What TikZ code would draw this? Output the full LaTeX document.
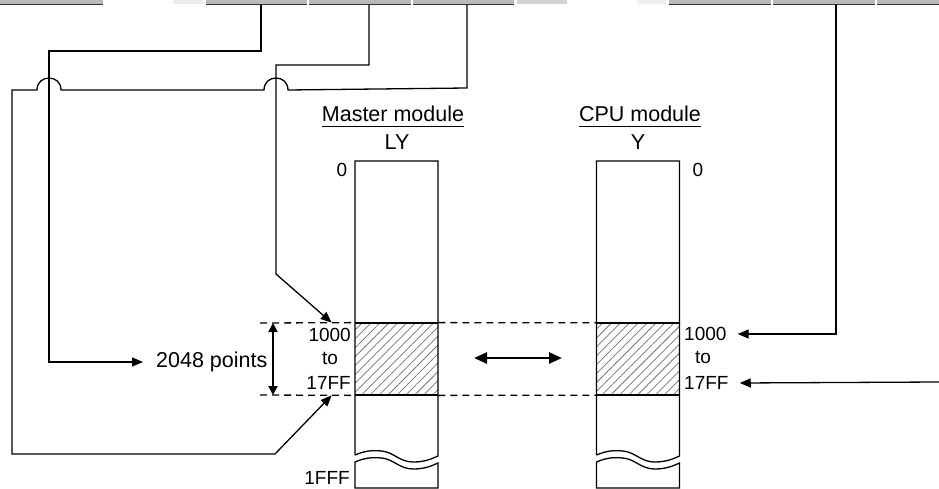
\documentclass[tikz,border=0pt]{standalone}
\usepackage{fontspec}
\setmainfont{Liberation Sans}
\usetikzlibrary{arrows.meta,positioning,patterns.meta}

\begin{document}
\begin{tikzpicture}[x=1pt,y=-1pt,font=\fontsize{19}{22}\selectfont,
  wire/.style={line width=1.3pt},
  arr/.style={wire,-{Triangle[length=11pt,width=9pt]}},
  dbl/.style={line width=2pt,{Triangle[length=9pt,width=9pt]}-{Triangle[length=9pt,width=9pt]}},
  xchg/.style={line width=2.6pt,{Triangle[length=13pt,width=11pt]}-{Triangle[length=13pt,width=11pt]}},
  lim/.style={line width=1.3pt,dash pattern=on 7pt off 5pt},
  edge/.style={line width=2pt},
  adr/.style={inner sep=0pt},
  big/.style={adr,font=\fontsize{21.5}{24}\selectfont},
  tab/.style={fill=gray!55},
  hatch/.style={pattern={Lines[angle=45,distance=6.3pt,line width=0.75pt]},pattern color=black!55,minimum width=83pt,minimum height=72pt,inner sep=0pt}]
\useasboundingbox (0,0) rectangle (939,489);
% cut-off table row at the top
\foreach \a/\b in {0/103,206/307,309/411,413/514,669/771,773/875,877/939}{
  \fill[tab] (\a,0) rectangle (\b,4);
  \draw[line width=1pt,black!80] (\a,4.5) -- (\b,4.5);}
\fill[gray!15] (173,0) rectangle (203,4);
\fill[gray!35] (517,0) rectangle (567,4);
\fill[gray!12] (637,0) rectangle (666,4);
\coordinate (t1) at (261,5);
\coordinate (t2) at (369,5);
\coordinate (t3) at (467,5);
\coordinate (t4) at (836,5);
\coordinate (rIn) at (939,382);
% device areas
\node[hatch] (lyArea) at (396.5,359) {};
\node[hatch] (yArea) at (638,359) {};
\foreach \c in {396.5,638}{
  \draw[wire] (\c-41.5,455) -- (\c-41.5,161) -- (\c+41.5,161) -- (\c+41.5,456)
    .. controls (\c+35,459) and (\c+28,462) .. (\c+16.5,462)
    .. controls (\c+3,462) and (\c-3,452) .. (\c-15,451)
    .. controls (\c-25,450) and (\c-32,451) .. (\c-41.5,455);
  \draw[wire] (\c-41.5,462)
    .. controls (\c-32,458) and (\c-25,457) .. (\c-15,458)
    .. controls (\c-3,459) and (\c+3,469) .. (\c+16.5,469)
    .. controls (\c+28,469) and (\c+35,466) .. (\c+41.5,463)
    -- (\c+41.5,488) -- (\c-41.5,488) -- cycle;}
\draw[edge] (lyArea.north west) -- (lyArea.north east);
\draw[edge] (lyArea.south west) -- (lyArea.south east);
\draw[edge] (yArea.north west) -- (yArea.north east);
\draw[edge] (yArea.south west) -- (yArea.south east);
\coordinate (dTop) at (260,323);
\coordinate (dBot) at (260,395);
\draw[lim] (dTop) -- (lyArea.north west);
\draw[lim] (dBot) -- (lyArea.south west);
\draw[lim] (lyArea.north east) -- (yArea.north west);
\draw[lim] (lyArea.south east) -- (yArea.south west);
% headings
\node[big] (hdM) at (393,114) {Master module};
\draw[line width=1pt] ([yshift=-4pt]hdM.south west) -- ([yshift=-4pt]hdM.south east);
\node[big] (hdLY) at (397,142) {LY};
\node[big] (hdC) at (640,114) {CPU module};
\draw[line width=1pt] ([yshift=-4pt]hdC.south west) -- ([yshift=-4pt]hdC.south east);
\node[big] (hdY) at (638,142) {Y};
% addresses
\node[adr] (ly0) at (342,170) {0};
\node[adr] (y0) at (698,170) {0};
\node[adr,anchor=east] (ly1000) at (351,335) {1000};
\node[adr] (lyTo) at (330,358) {to};
\node[adr,anchor=east] (ly17FF) at (351,383) {17FF};
\node[adr,anchor=east] (ly1FFF) at (350,478) {1FFF};
\node[adr,anchor=west] (y1000) at (684,334) {1000};
\node[adr] (yTo) at (703,357) {to};
\node[adr,anchor=west] (y17FF) at (684,383) {17FF};
\node[big,anchor=west] (pts) at (156,362) {2048 points};
\draw[dbl] ([xshift=13pt]dTop) -- ([xshift=13pt]dBot);
\draw[xchg] (474,358) -- (562,358);
% wires
\coordinate (lyIn) at ([xshift=-23pt]lyArea.north west);
\coordinate (lyOut) at ([xshift=-23pt]lyArea.south west);
\draw[arr] (t1) |- (49,51) |- ([xshift=-13pt]pts.west);
\draw[arr] (t2) |- (276,65) -- (276,274) -- (lyIn);
\draw[arr] (t3) -- (467,88) -- (288,90) .. controls (288,74) and (264,74) .. (264,90)
  -- (61,90) .. controls (61,74) and (37,74) .. (37,90) -- (12,90) -- (12,454) -- (275,454) -- (lyOut);
\draw[arr] (t4) |- ([xshift=11pt]y1000.east);
\draw[arr] (rIn) -- ([xshift=11pt]y17FF.east);
\end{tikzpicture}
\end{document}
